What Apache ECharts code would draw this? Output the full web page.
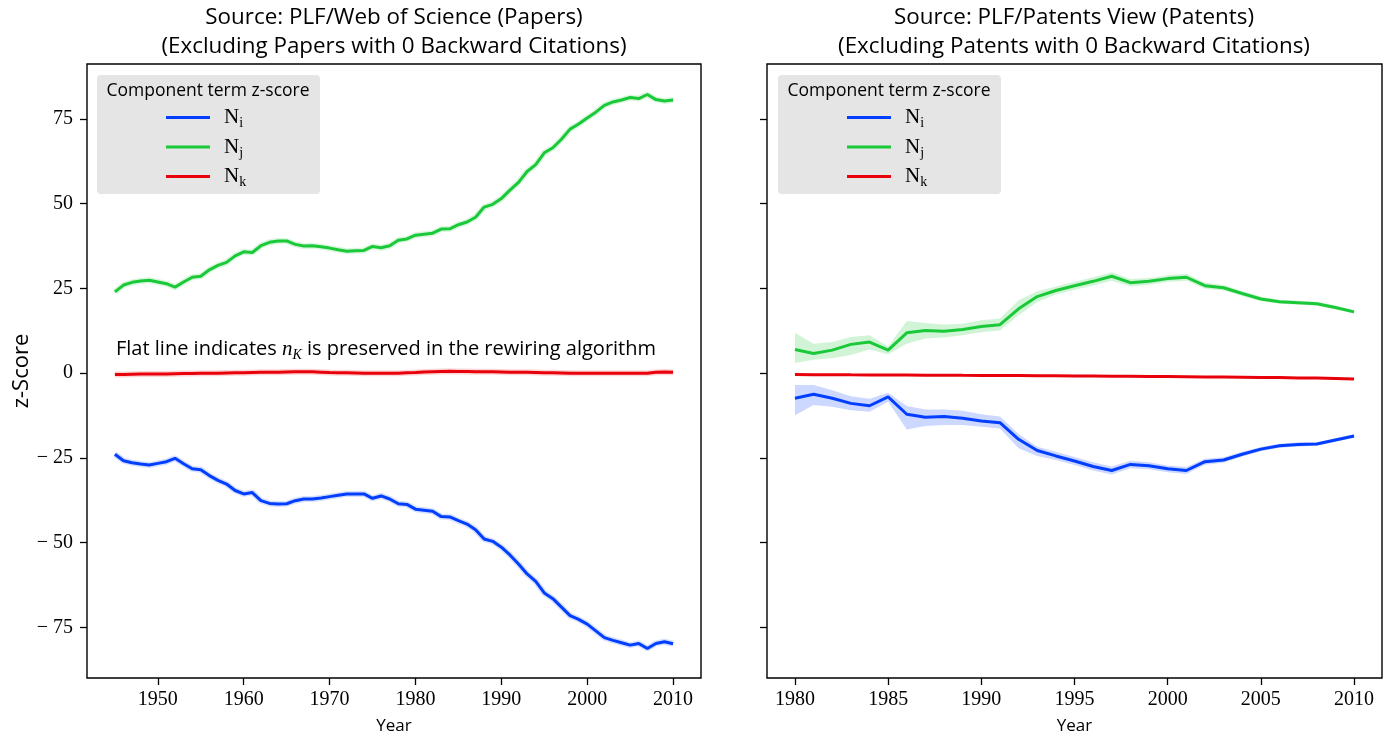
<!DOCTYPE html>
<html>
<head>
<meta charset="utf-8">
<script src="https://cdn.jsdelivr.net/npm/echarts@6.0.0/dist/echarts.min.js"></script>
<style>
  html, body { margin: 0; padding: 0; background: #fff; }
  #chart { width: 1388px; height: 737px; }
</style>
</head>
<body>
<div id="chart"></div>
<script>
// ---- data ----
const leftYears = [1945,1946,1947,1948,1949,1950,1951,1952,1953,1954,1955,1956,1957,1958,1959,1960,1961,1962,1963,1964,1965,1966,1967,1968,1969,1970,1971,1972,1973,1974,1975,1976,1977,1978,1979,1980,1981,1982,1983,1984,1985,1986,1987,1988,1989,1990,1991,1992,1993,1994,1995,1996,1997,1998,1999,2000,2001,2002,2003,2004,2005,2006,2007,2008,2009,2010];
const leftNi = [-23.9,-25.8,-26.4,-26.8,-27.1,-26.6,-26.1,-25.1,-26.7,-28.2,-28.5,-30.2,-31.6,-32.7,-34.6,-35.6,-35.2,-37.6,-38.4,-38.6,-38.5,-37.6,-37.1,-37.1,-36.8,-36.4,-36.0,-35.6,-35.6,-35.6,-36.9,-36.2,-37.1,-38.5,-38.7,-40.1,-40.4,-40.7,-42.3,-42.4,-43.5,-44.5,-46.2,-48.9,-49.6,-51.3,-53.6,-56.3,-59.2,-61.4,-64.8,-66.5,-69.0,-71.5,-72.6,-74.0,-76.0,-78.0,-78.8,-79.5,-80.2,-79.7,-81.2,-79.7,-79.2,-79.8];
const leftNj = [24.0,26.0,26.8,27.2,27.4,26.9,26.4,25.4,26.9,28.3,28.6,30.5,31.8,32.7,34.6,35.8,35.6,37.6,38.6,39.0,39.0,38.0,37.5,37.6,37.3,36.9,36.4,36.0,36.1,36.2,37.4,37.0,37.6,39.2,39.6,40.7,41.0,41.3,42.5,42.6,43.8,44.6,46.0,49.0,49.8,51.5,54.0,56.3,59.5,61.5,65.0,66.5,69.0,72.0,73.5,75.3,77.0,79.0,80.0,80.6,81.3,81.0,82.2,80.7,80.3,80.6];
const leftNk = [-0.4,-0.35,-0.3,-0.25,-0.2,-0.2,-0.2,-0.15,-0.1,-0.1,-0.05,0,0,0.05,0.1,0.15,0.2,0.25,0.3,0.3,0.35,0.4,0.45,0.4,0.3,0.2,0.15,0.1,0.05,0,0,-0.05,0,0,0.1,0.2,0.35,0.45,0.5,0.55,0.5,0.5,0.45,0.45,0.4,0.35,0.3,0.3,0.25,0.2,0.15,0.1,0.05,0,0,-0.05,-0.05,-0.05,-0.05,-0.05,-0.05,-0.05,0,0.3,0.35,0.3];

const rightYears = [1980,1981,1982,1983,1984,1985,1986,1987,1988,1989,1990,1991,1992,1993,1994,1995,1996,1997,1998,1999,2000,2001,2002,2003,2004,2005,2006,2007,2008,2009,2010];
const rightNi = [-7.4,-6.2,-7.4,-8.9,-9.6,-7.0,-12.1,-13.0,-12.8,-13.3,-14.1,-14.6,-19.5,-22.8,-24.4,-25.9,-27.5,-28.7,-26.9,-27.3,-28.2,-28.7,-26.1,-25.6,-23.9,-22.4,-21.4,-21.0,-20.9,-19.7,-18.5];
const rightNiLow = [-12.4,-9.4,-9.9,-10.9,-11.4,-8.4,-16.6,-15.6,-15.3,-15.3,-15.8,-16.3,-22.1,-24.4,-25.6,-27.1,-28.7,-29.9,-28.0,-28.3,-29.2,-29.7,-27.0,-26.4,-24.6,-23.0,-22.0,-21.6,-21.4,-20.2,-19.0];
const rightNiHigh = [-3.5,-3.5,-5.0,-6.8,-7.5,-5.8,-9.7,-10.7,-10.7,-11.1,-12.1,-12.8,-17.9,-21.7,-23.2,-24.7,-26.3,-27.5,-25.8,-26.3,-27.2,-27.7,-25.2,-24.8,-23.2,-21.8,-20.8,-20.4,-20.4,-19.2,-18.0];
const rightNj = [7.0,5.8,6.8,8.5,9.2,6.8,11.9,12.6,12.4,12.9,13.8,14.3,19.0,22.6,24.4,25.8,27.1,28.6,26.7,27.1,27.9,28.3,25.8,25.2,23.5,21.9,21.1,20.8,20.5,19.4,18.1];
const rightNjLow = [3.0,4.0,4.4,5.4,7.0,5.6,8.7,10.2,10.5,11.2,12.1,12.6,17.1,21.0,23.2,24.6,25.9,27.3,25.6,26.1,26.9,27.3,24.9,24.4,22.8,21.2,20.5,20.2,19.9,18.8,17.6];
const rightNjHigh = [11.9,8.7,9.2,10.7,11.2,7.9,15.4,14.8,14.4,14.6,15.6,16.1,21.5,24.2,25.6,27.0,28.3,29.8,27.8,28.1,28.9,29.3,26.7,26.0,24.2,22.6,21.7,21.4,21.1,20.0,18.6];
const rightNk = [-0.4,-0.42,-0.45,-0.48,-0.5,-0.52,-0.55,-0.58,-0.6,-0.63,-0.65,-0.68,-0.7,-0.73,-0.76,-0.8,-0.83,-0.87,-0.9,-0.95,-1.0,-1.05,-1.1,-1.15,-1.2,-1.25,-1.3,-1.38,-1.45,-1.55,-1.7];

const leftXTicks = [1950,1960,1970,1980,1990,2000,2010];
const rightXTicks = [1980,1985,1990,1995,2000,2005,2010];
const yTicks = [-75,-50,-25,0,25,50,75];
const seriesNames = ['Ni','Nj','Nk'];
const subscripts = { Ni: 'i', Nj: 'j', Nk: 'k' };

// ---- styling ----
const BLUE = '#023eff', GREEN = '#1ac938', RED = '#e8000b';
const SANS = '"Open Sans", Lato, sans-serif';
const SERIF = '"Liberation Serif", "DejaVu Serif", serif';

const pairs = (xs, ys) => xs.map((x, i) => [x, ys[i]]);

const chart = echarts.init(document.getElementById('chart'));

function xAxisFor(gridIndex, min, max, ticks) {
  return {
    type: 'value', gridIndex, min, max,
    axisLine: { show: false, onZero: false },
    splitLine: { show: false },
    axisTick: { show: true, length: 7, lineStyle: { color: '#000', width: 1.3 }, customValues: ticks },
    axisLabel: { color: '#000', fontFamily: SERIF, fontSize: 20, margin: 12, customValues: ticks, formatter: v => String(v) },
    name: 'Year', nameLocation: 'middle', nameGap: 40,
    nameTextStyle: { color: '#000', fontFamily: SANS, fontSize: 17 }
  };
}

function yAxisFor(gridIndex, showLabels) {
  return {
    type: 'value', gridIndex, min: -89.9, max: 91.2,
    axisLine: { show: false, onZero: false },
    splitLine: { show: false },
    axisTick: { show: true, length: 7, lineStyle: { color: '#000', width: 1.3 }, customValues: yTicks },
    axisLabel: {
      show: showLabels, color: '#000', fontFamily: SERIF, fontSize: 20, margin: 14,
      customValues: yTicks,
      formatter: v => (v < 0 ? '\u2212 ' + Math.abs(v) : String(v))
    },
    name: showLabels ? 'z-Score' : '', nameLocation: 'middle', nameGap: 52,
    nameTextStyle: { color: '#000', fontFamily: SANS, fontSize: 22 }
  };
}

function line(name, axis, xs, ys, color) {
  return {
    name, type: 'line', xAxisIndex: axis, yAxisIndex: axis,
    data: pairs(xs, ys), showSymbol: false, symbol: 'none',
    color, lineStyle: { color, width: 3 }, z: 3
  };
}

// faint halo under the left lines (their CI bands are only ~1 unit wide)
function halo(axis, xs, ys, color) {
  return {
    name: 'halo', type: 'line', xAxisIndex: axis, yAxisIndex: axis,
    data: pairs(xs, ys), symbol: 'none', silent: true,
    lineStyle: { color, width: 6, opacity: 0.16 }, z: 2
  };
}

// confidence band drawn as one polygon through the axis scales
function band(axis, xs, low, high, color) {
  return {
    type: 'custom', xAxisIndex: axis, yAxisIndex: axis, silent: true, z: 1,
    data: xs.map((x, i) => [x, low[i], high[i]]),
    encode: { x: 0, y: [1, 2] },
    renderItem(params, api) {
      if (params.dataIndex !== 0) return null;
      const upper = xs.map((x, i) => api.coord([x, high[i]]));
      const lower = xs.map((x, i) => api.coord([x, low[i]])).reverse();
      return {
        type: 'polygon',
        shape: { points: upper.concat(lower) },
        style: { fill: color, opacity: 0.2 }
      };
    }
  };
}

function legendFor(left) {
  return {
    data: seriesNames, orient: 'vertical', left, top: 107, padding: 0,
    itemWidth: 44, itemHeight: 3, itemGap: 6, icon: 'rect', selectedMode: false,
    itemStyle: { borderWidth: 0 },
    formatter: n => '{n|N}{s|' + subscripts[n] + '}',
    textStyle: {
      rich: {
        n: { fontFamily: SERIF, fontSize: 21, color: '#000', lineHeight: 26, padding: [0, 0, 0, 9] },
        s: { fontFamily: SERIF, fontSize: 14, color: '#000', lineHeight: 26, verticalAlign: 'bottom' }
      }
    },
    z: 6
  };
}

function legendBox(x) {
  return [
    { type: 'rect', shape: { x, y: 75, width: 223, height: 119, r: 4 }, style: { fill: '#e5e5e5' }, z: 5 },
    {
      type: 'text', x: x + 111, y: 91, z: 6,
      style: { text: 'Component term z-score', fill: '#000', font: '17.5px ' + SANS, align: 'center', verticalAlign: 'middle' }
    }
  ];
}

const titleStyle = { color: '#000', fontFamily: SANS, fontSize: 22.4, fontWeight: 'normal', lineHeight: 29 };
const gridBase = { show: true, borderColor: '#000', borderWidth: 1.4, backgroundColor: 'transparent', outerBoundsMode: 'none', containLabel: false };

chart.setOption({
  animation: false,
  backgroundColor: '#fff',
  title: [
    {
      text: 'Source: PLF/Web of Science (Papers)\n(Excluding Papers with 0 Backward Citations)',
      left: 394, top: 3, padding: 0, textAlign: 'center', textStyle: titleStyle
    },
    {
      text: 'Source: PLF/Patents View (Patents)\n(Excluding Patents with 0 Backward Citations)',
      left: 1074, top: 3, padding: 0, textAlign: 'center', textStyle: titleStyle
    }
  ],
  grid: [
    { ...gridBase, left: 87, top: 64, width: 614, height: 614 },
    { ...gridBase, left: 767, top: 64, width: 615, height: 614 }
  ],
  xAxis: [
    xAxisFor(0, 1941.75, 2013.25, leftXTicks),
    xAxisFor(1, 1978.5, 2011.5, rightXTicks)
  ],
  yAxis: [yAxisFor(0, true), yAxisFor(1, false)],
  legend: [legendFor(166), legendFor(847)],
  graphic: [
    ...legendBox(97),
    ...legendBox(778),
    {
      type: 'text', x: 116, y: 349, z: 6,
      style: {
        text: '{a|Flat line indicates }{m|n}{k|K}{a| is preserved in the rewiring algorithm}',
        verticalAlign: 'middle',
        rich: {
          a: { fontFamily: SANS, fontSize: 20, fill: '#000', lineHeight: 26 },
          m: { fontFamily: SERIF, fontStyle: 'italic', fontSize: 21, fill: '#000', lineHeight: 26 },
          k: { fontFamily: SERIF, fontStyle: 'italic', fontSize: 14, fill: '#000', lineHeight: 26, verticalAlign: 'bottom' }
        }
      }
    }
  ],
  series: [
    halo(0, leftYears, leftNi, BLUE),
    halo(0, leftYears, leftNj, GREEN),
    halo(0, leftYears, leftNk, RED),
    line('Ni', 0, leftYears, leftNi, BLUE),
    line('Nj', 0, leftYears, leftNj, GREEN),
    line('Nk', 0, leftYears, leftNk, RED),
    band(1, rightYears, rightNiLow, rightNiHigh, BLUE),
    band(1, rightYears, rightNjLow, rightNjHigh, GREEN),
    line('Ni', 1, rightYears, rightNi, BLUE),
    line('Nj', 1, rightYears, rightNj, GREEN),
    line('Nk', 1, rightYears, rightNk, RED)
  ]
});
</script>
</body>
</html>
